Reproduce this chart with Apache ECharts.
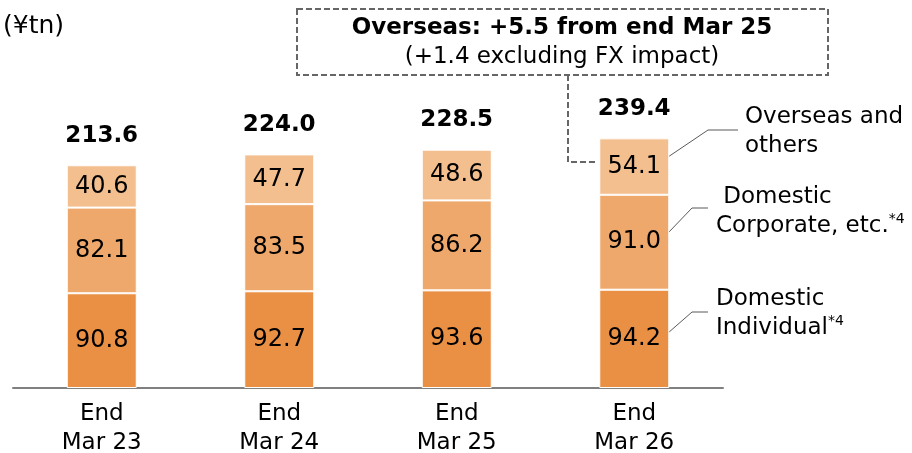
<!DOCTYPE html>
<html>
<head>
<meta charset="utf-8">
<script src="https://cdn.jsdelivr.net/npm/echarts@6/dist/echarts.min.js"></script>
<style>
  html, body { margin: 0; padding: 0; background: #fff; }
  #main { width: 912px; height: 453px; }
</style>
</head>
<body>
<div id="main"></div>
<script>
var categories = ['End\nMar 23', 'End\nMar 24', 'End\nMar 25', 'End\nMar 26'];
var individual = [90.8, 92.7, 93.6, 94.2];
var corporate = [82.1, 83.5, 86.2, 91.0];
var overseas = [40.6, 47.7, 48.6, 54.1];
var totals = [213.6, 224.0, 228.5, 239.4];

var FONT = 'DejaVu Sans';

var inLabel = {
    show: true,
    position: 'inside',
    color: '#000',
    fontSize: 24,
    fontFamily: FONT,
    formatter: function (p) { return p.value.toFixed(1); }
};

function barSeries(name, data, color) {
    return {
        name: name,
        type: 'bar',
        stack: 'total',
        barWidth: 70,
        data: data,
        itemStyle: { color: color, borderColor: '#fff', borderWidth: 1 },
        label: inLabel,
        animation: false
    };
}

var sideText = { fontSize: 23, fontFamily: FONT, fill: '#000', lineHeight: 29 };
var sup = { s: { fontSize: 14, fontFamily: FONT, verticalAlign: 'top', lineHeight: 22, fill: '#000' } };

var option = {
    animation: false,
    grid: { left: 13, right: 189, top: 75, bottom: 65, outerBoundsMode: 'none', containLabel: false },
    xAxis: {
        type: 'category',
        data: categories,
        axisLine: { lineStyle: { color: '#808080', width: 2 } },
        axisTick: { show: false },
        axisLabel: { color: '#000', fontSize: 23, fontFamily: FONT, lineHeight: 29, margin: 12 }
    },
    yAxis: { type: 'value', min: 0, max: 300, show: false, splitLine: { show: false } },
    series: [
        barSeries('Domestic Individual', individual, '#ea9045'),
        barSeries('Domestic Corporate', corporate, '#eea86b'),
        barSeries('Overseas and others', overseas, '#f3bf8f'),
        {
            name: 'Total',
            type: 'bar',
            stack: 'total',
            barWidth: 70,
            data: totals.map(function () { return 0; }),
            itemStyle: { color: 'transparent' },
            label: {
                show: true,
                position: 'top',
                distance: 18,
                color: '#000',
                fontSize: 23,
                fontWeight: 'bold',
                fontFamily: FONT,
                formatter: function (p) { return totals[p.dataIndex].toFixed(1); }
            },
            animation: false
        }
    ],
    graphic: { elements: [
        { type: 'text', left: 3, top: 14, style: { text: '(¥tn)', fontSize: 25, fontFamily: FONT, fill: '#000' } },
        // callout box
        { type: 'rect', shape: { x: 297, y: 9, width: 531, height: 66 },
          style: { fill: '#fff', stroke: '#666', lineWidth: 2, lineDash: [6, 3] } },
        { type: 'text', x: 562, y: 28, style: { text: 'Overseas: +5.5 from end Mar 25', fontSize: 23, fontWeight: 'bold',
          fontFamily: FONT, fill: '#000', align: 'center', verticalAlign: 'middle' } },
        { type: 'text', x: 562, y: 57, style: { text: '(+1.4 excluding FX impact)', fontSize: 23,
          fontFamily: FONT, fill: '#000', align: 'center', verticalAlign: 'middle' } },
        { type: 'polyline', shape: { points: [[568, 75], [568, 162], [596, 162]] },
          style: { fill: null, stroke: '#666', lineWidth: 2, lineDash: [6, 3] } },
        // leader lines
        { type: 'polyline', shape: { points: [[668, 157], [708, 130], [738, 130]] }, style: { fill: null, stroke: '#595959', lineWidth: 1 } },
        { type: 'polyline', shape: { points: [[668, 233], [692, 208], [708, 208]] }, style: { fill: null, stroke: '#595959', lineWidth: 1 } },
        { type: 'polyline', shape: { points: [[668, 333], [692, 312], [708, 312]] }, style: { fill: null, stroke: '#595959', lineWidth: 1 } },
        { type: 'text', x: 745, y: 103, style: Object.assign({ text: 'Overseas and\nothers' }, sideText) },
        { type: 'text', x: 716, y: 183, style: Object.assign({ text: ' Domestic\nCorporate, etc.{s|*4}', rich: sup }, sideText) },
        { type: 'text', x: 716, y: 285, style: Object.assign({ text: 'Domestic\nIndividual{s|*4}', rich: sup }, sideText) }
    ] }
};

echarts.init(document.getElementById('main')).setOption(option);
</script>
</body>
</html>
